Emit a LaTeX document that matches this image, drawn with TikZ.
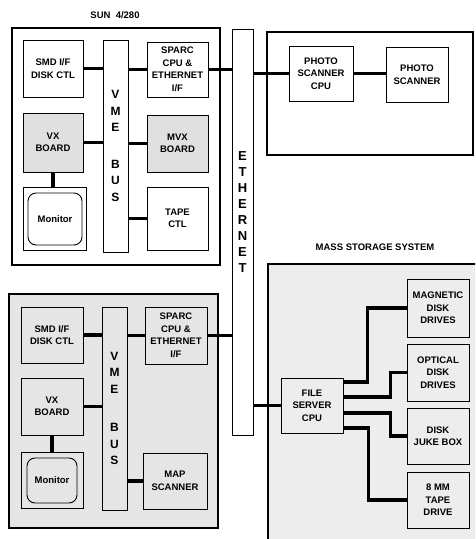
\documentclass[tikz,border=0pt]{standalone}
\usepackage{fontspec}
\setmainfont{Liberation Sans}

\begin{document}
\begin{tikzpicture}[x=1pt,y=-1pt,
  unit/.style={draw,line width=.9pt,align=center,inner sep=1pt,font=\bfseries\fontsize{9.5}{12.5}\selectfont},
  board/.style={unit,fill=black!12},
  frame/.style={draw,line width=1.2pt,inner sep=0pt},
  busbar/.style={draw,line width=.9pt,inner sep=0pt,align=center,font=\bfseries\fontsize{12}{16.5}\selectfont},
  title/.style={font=\bfseries\fontsize{9.5}{12}\selectfont},
  bus/.style={line width=3.5pt}]
      \useasboundingbox (0,0) rectangle (475,539);
      \clip (0,0) rectangle (475,539);
      \fill[white] (0,0) rectangle (475,539);
      % upper workstation
      \node[title] (sunlbl) at (115,15) {SUN\ \ 4/280};
      \node[frame,minimum width=208,minimum height=237] (sunA) at (116,146.5) {};
      \node[unit,minimum width=60,minimum height=57] (smdA) at (53,68.5) {SMD I/F\\DISK CTL};
      \node[busbar,fill=white,minimum width=25,minimum height=212] (vmeA) at (115.5,146) {V\\M\\E\\[20pt]B\\U\\S};
      \node[unit,minimum width=61,minimum height=55] (sparcA) at (177.5,69.5) {SPARC\\CPU \&\\ETHERNET\\I/F};
      \node[board,minimum width=60,minimum height=59] (vxA) at (53,142.5) {VX\\BOARD};
      \node[board,minimum width=61,minimum height=57] (mvxA) at (177.5,143.5) {MVX\\BOARD};
      \node[unit,minimum width=63,minimum height=63] (monboxA) at (54.5,218.5) {};
      \node[unit,rounded corners=8pt,minimum width=54,minimum height=52] (monA) at (55,219) {Monitor};
      \node[unit,minimum width=61,minimum height=63] (tapeA) at (177.5,218.5) {TAPE\\CTL};
      % lower workstation
      \node[frame,fill=black!10,minimum width=209,minimum height=234] (sunB) at (113.5,411) {};
      \node[unit,minimum width=62,minimum height=56] (smdB) at (52,335) {SMD I/F\\DISK CTL};
      \node[busbar,minimum width=25,minimum height=203] (vmeB) at (114.5,408.5) {V\\M\\E\\[22pt]B\\U\\S};
      \node[unit,minimum width=62,minimum height=57] (sparcB) at (176,335.5) {SPARC\\CPU \&\\ETHERNET\\I/F};
      \node[unit,minimum width=62,minimum height=57] (vxB) at (52,406.5) {VX\\BOARD};
      \node[unit,minimum width=62,minimum height=56] (monboxB) at (52,480) {};
      \node[unit,rounded corners=8pt,minimum width=50,minimum height=45] (monB) at (52,480.5) {Monitor};
      \node[unit,minimum width=64,minimum height=56] (mapB) at (175,481) {MAP\\SCANNER};
      % ethernet
      \node[busbar,fill=white,minimum width=21,minimum height=406] (eth) at (242.5,232) {};
      \node[font=\bfseries\fontsize{13}{16}\selectfont,align=center,inner sep=0pt] (ethlbl) at (242.5,212) {E\\T\\H\\E\\R\\N\\E\\T};
      % photo scanner
      \node[frame,minimum width=206,minimum height=123] (photo) at (370,93.5) {};
      \node[unit,minimum width=64,minimum height=55] (pcpu) at (321,73.5) {PHOTO\\SCANNER\\CPU};
      \node[unit,minimum width=62,minimum height=55] (pscan) at (417,74.5) {PHOTO\\SCANNER};
      % mass storage
      \node[title] (msslbl) at (375,247) {MASS STORAGE SYSTEM};
      \draw[line width=1.2pt,fill=black!7] (268,264) rectangle (490,560);
      \node[unit,minimum width=62,minimum height=55] (fs) at (312,405.5) {FILE\\SERVER\\CPU};
      \node[unit,minimum width=62,minimum height=58] (mag) at (438,308) {MAGNETIC\\DISK\\DRIVES};
      \node[unit,minimum width=62,minimum height=57] (opt) at (438,372.5) {OPTICAL\\DISK\\DRIVES};
      \node[unit,minimum width=62,minimum height=56] (juke) at (438,436) {DISK\\JUKE BOX};
      \node[unit,minimum width=62,minimum height=56] (tape8) at (438,500) {8 MM\\TAPE\\DRIVE};
      % links
      \draw[bus] (smdA.east) -- (smdA.east -| vmeA.west);
      \draw[bus] (vmeA.east |- sparcA.west) -- (sparcA.west);
      \draw[bus] (sparcA.east) -- (sparcA.east -| eth.west);
      \draw[bus] (vxA.east) -- (vxA.east -| vmeA.west);
      \draw[bus] (vmeA.east |- mvxA.west) -- (mvxA.west);
      \draw[bus] (vmeA.east |- tapeA.west) -- (tapeA.west);
      \draw[bus] (vxA.south) -- (vxA.south |- monboxA.north);
      \draw[bus] (smdB.east) -- (smdB.east -| vmeB.west);
      \draw[bus] (vmeB.east |- sparcB.west) -- (sparcB.west);
      \draw[bus] (sparcB.east) -- (sparcB.east -| eth.west);
      \draw[bus] (vxB.east) -- (vxB.east -| vmeB.west);
      \draw[bus] (vmeB.east |- mapB.west) -- (mapB.west);
      \draw[bus] (vxB.south) -- (vxB.south |- monboxB.north);
      \draw[bus] (eth.east |- pcpu.west) -- (pcpu.west);
      \draw[bus] (pcpu.east) -- (pcpu.east -| pscan.west);
      \draw[bus] (eth.east |- fs.west) -- (fs.west);
      \draw[bus] ([yshift=23.5pt]fs.east) -- ++(24,0) |- (mag.west);
      \draw[bus] ([yshift=8.5pt]fs.east) -- ++(47,0) |- (opt.west);
      \draw[bus] ([yshift=-7.5pt]fs.east) -- ++(47,0) |- (juke.west);
      \draw[bus] ([yshift=-22.5pt]fs.east) -- ++(25,0) |- (tape8.west);
\end{tikzpicture}
\end{document}
